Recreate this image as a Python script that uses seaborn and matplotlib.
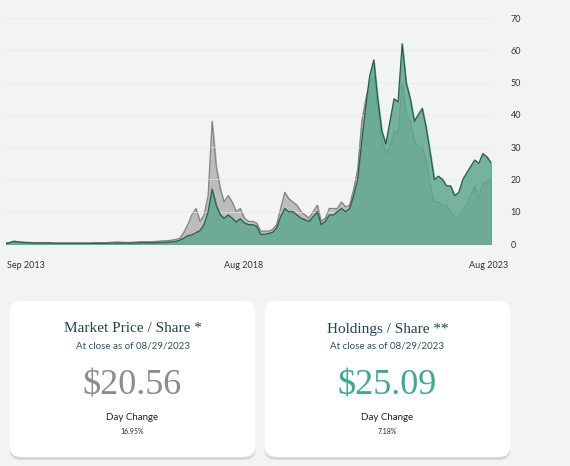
import numpy as np
import pandas as pd
import matplotlib
matplotlib.use("Agg")
import matplotlib.pyplot as plt
from matplotlib.patches import FancyBboxPatch
import seaborn as sns

sns.set_theme(style="white")
plt.rcParams['font.family'] = ['Lato', 'DejaVu Sans']

months = pd.date_range("2013-09-01", "2023-09-01", freq="MS")
holdings = [
    0.2, 0.4, 0.8, 0.6,                                   # 2013
    0.5, 0.4, 0.4, 0.3, 0.3, 0.3, 0.3, 0.3, 0.2, 0.2, 0.2, 0.2,  # 2014
    0.2, 0.2, 0.2, 0.2, 0.2, 0.2, 0.2, 0.2, 0.2, 0.2, 0.3, 0.3,  # 2015
    0.3, 0.3, 0.3, 0.3, 0.3, 0.4, 0.4, 0.4, 0.4, 0.4, 0.5, 0.5,  # 2016
    0.6, 0.7, 0.8, 1.2, 1.8, 2.6, 2.8, 3.5, 4.2, 6.0, 10.0, 17.0,  # 2017
    12.0, 9.0, 8.0, 9.0, 8.0, 6.8, 7.8, 6.5, 6.0, 6.0, 5.5, 3.0,  # 2018
    3.0, 3.3, 3.6, 5.0, 8.5, 11.0, 10.0, 10.0, 9.0, 8.0, 7.5, 7.0,  # 2019
    8.5, 10.0, 6.0, 7.0, 9.0, 9.0, 10.0, 11.0, 10.0, 11.0, 15.0, 20.0,  # 2020
    32.0, 43.0, 52.0, 57.0, 45.0, 35.0, 31.0, 38.0, 45.0, 44.0, 62.0, 50.0,  # 2021
    45.0, 38.0, 40.0, 42.0, 36.0, 28.0, 20.0, 21.0, 20.0, 18.0, 18.0, 15.0,  # 2022
    16.0, 20.0, 22.0, 24.0, 26.0, 25.0, 28.0, 27.0, 25.1,  # 2023
]
market = [
    0.3, 0.5, 0.9, 0.7,
    0.6, 0.5, 0.5, 0.4, 0.4, 0.4, 0.4, 0.4, 0.3, 0.3, 0.3, 0.3,
    0.3, 0.3, 0.3, 0.3, 0.3, 0.3, 0.4, 0.4, 0.4, 0.4, 0.5, 0.6,
    0.6, 0.5, 0.5, 0.5, 0.6, 0.7, 0.7, 0.7, 0.7, 0.8, 0.9, 1.0,
    1.0, 1.2, 1.4, 1.8, 3.5, 6.0, 9.0, 11.0, 7.0, 9.0, 15.0, 38.0,
    24.0, 17.0, 13.0, 15.0, 13.0, 10.0, 11.0, 8.0, 7.0, 7.0, 6.5, 4.0,
    4.0, 4.0, 4.5, 6.0, 11.0, 16.0, 14.0, 13.0, 12.0, 10.0, 9.0, 8.0,
    10.0, 12.0, 7.0, 8.0, 11.0, 11.0, 11.0, 13.0, 11.5, 12.0, 17.0, 23.0,
    38.0, 45.0, 50.0, 52.0, 42.0, 32.0, 28.0, 30.0, 35.0, 34.0, 50.0, 40.0,
    38.0, 32.0, 30.0, 30.0, 26.0, 18.0, 13.0, 13.0, 12.0, 12.0, 10.0, 8.0,
    8.0, 11.0, 12.0, 15.0, 18.0, 14.0, 19.0, 19.0, 20.6,
]
df = pd.DataFrame({"date": months[:len(holdings)], "holdings": holdings, "market": market})

BG = "#f2f3f5"
fig = plt.figure(figsize=(5.7, 4.66), dpi=100, facecolor=BG)
ax = fig.add_axes([6/570, 1-244/466, 485/570, 226/466], facecolor=BG)

ax.fill_between(df["date"], df["market"], color="#bdbdbd", zorder=1)
sns.lineplot(data=df, x="date", y="market", ax=ax, color="#858585", lw=0.9, zorder=2)
ax.fill_between(df["date"], df["holdings"], color="#5fa88e", alpha=0.85, zorder=3)
sns.lineplot(data=df, x="date", y="holdings", ax=ax, color="#2d5f4f", lw=0.9, zorder=4)

ax.set_ylim(0, 70)
ax.set_xlim(df["date"].iloc[0], df["date"].iloc[-1])
ax.set_yticks(range(0, 71, 10))
ax.yaxis.tick_right()
ax.tick_params(axis="y", length=0, pad=14, labelsize=6.5, labelcolor="#333333")
ax.set_xticks([])
ax.set_xlabel(""); ax.set_ylabel("")
ax.grid(axis="y", color="#e8eaed", lw=0.8, alpha=0.6, zorder=5)
ax.set_axisbelow(False)
for s in ax.spines.values():
    s.set_visible(False)

for txt, xp, ha in [("Sep 2013", 7, "left"), ("Aug 2018", 244, "center"), ("Aug 2023", 508, "right")]:
    fig.text(xp/570, 1-266/466, txt, ha=ha, va="center", fontsize=6.5, color="#333333")

cards = [
    (10, "Market Price / Share *", "$20.56", "#8c8c8c", "16.95%"),
    (265, "Holdings / Share **", "$25.09", "#3aab8c", "7.18%"),
]
W, H, top = 245, 156, 301
for x0, title, val, col, pct in cards:
    sh = FancyBboxPatch((x0/570, 1-(top+H+3)/466), W/570, H/466,
                        boxstyle="round,pad=0,rounding_size=0.02", transform=fig.transFigure,
                        facecolor="#d4d6d9", edgecolor="none", zorder=0)
    fig.patches.append(sh)
    box = FancyBboxPatch((x0/570, 1-(top+H)/466), W/570, H/466,
                         boxstyle="round,pad=0,rounding_size=0.02", transform=fig.transFigure,
                         facecolor="white", edgecolor="none", zorder=1)
    fig.patches.append(box)
    cx = (x0 + W/2)/570
    fig.text(cx, 1-329/466, title, ha="center", va="center", fontsize=11,
             family="Liberation Serif", color="#1e4552")
    fig.text(cx, 1-346/466, "At close as of 08/29/2023", ha="center", va="center",
             fontsize=7, color="#2b5463")
    fig.text(cx, 1-386/466, val, ha="center", va="center", fontsize=26,
             family="Liberation Serif", color=col)
    fig.text(cx, 1-418/466, "Day Change", ha="center", va="center", fontsize=7, color="#222222")
    fig.text(cx, 1-431/466, pct, ha="center", va="center", fontsize=5, color="#222222")

fig.savefig("out.png", dpi=100, facecolor=BG)
